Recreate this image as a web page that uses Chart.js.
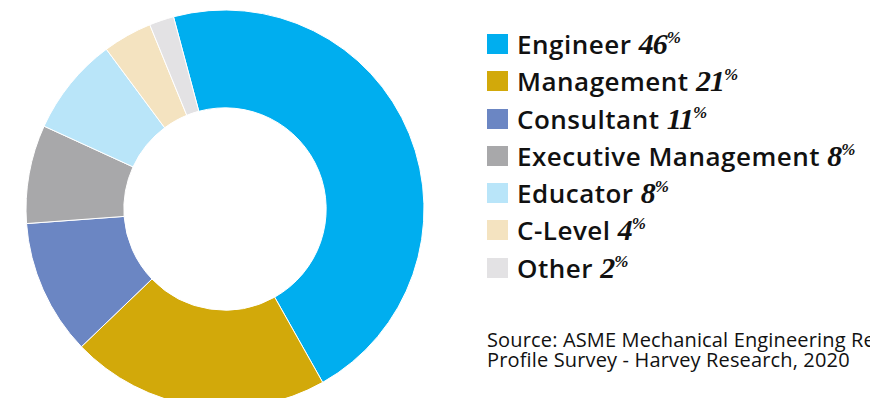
<!DOCTYPE html>
<html>
<head>
<meta charset="utf-8">
<script src="https://cdn.jsdelivr.net/npm/chart.js@4/dist/chart.umd.min.js"></script>
<style>
    html, body { margin: 0; padding: 0; background: #fff; overflow: hidden; }
    body { width: 870px; height: 398px; position: relative; }
    #chartBox { position: absolute; left: 0; top: 0; width: 450px; height: 418px; }
    #legend { position: absolute; left: 487px; top: 29px; font-family: "Open Sans", sans-serif; }
    .row { display: flex; align-items: flex-start; height: 37.3px; white-space: nowrap; }
    .sw { width: 21px; height: 20px; margin-top: 5px; margin-right: 9px; flex: none; }
    .lbl { font-weight: 600; font-size: 26px; line-height: 29px; color: #111; letter-spacing: 0.5px; }
    .pct { font-family: "Liberation Serif", serif; font-style: italic; font-weight: bold; font-size: 30px; letter-spacing: -1px; }
    .pct sup { font-size: 17px; vertical-align: 11px; line-height: 0; letter-spacing: -1px; }
    #source { position: absolute; left: 487px; top: 330px; font-family: "Open Sans", sans-serif; font-size: 20px; line-height: 20px; color: #111; white-space: nowrap; letter-spacing: 0.15px; }
</style>
</head>
<body>
<div id="chartBox"><canvas id="donut"></canvas></div>
<div id="legend"></div>
<div id="source">Source: ASME Mechanical Engineering Research<br>Profile Survey - Harvey Research, 2020</div>
<script>
// 职业分布数据
const categories = ['Engineer', 'Management', 'Consultant', 'Executive Management', 'Educator', 'C-Level', 'Other'];
const shares = [46, 21, 11, 8, 8, 4, 2];
const colors = ['#00AEEF', '#D2A90A', '#6B86C3', '#A8A8AA', '#B9E5F9', '#F4E3C0', '#E3E2E4'];

document.addEventListener('DOMContentLoaded', function() {
    // 图例（带斜体百分比）
    const legend = document.getElementById('legend');
    categories.forEach(function(name, i) {
        const row = document.createElement('div');
        row.className = 'row';
        row.innerHTML = '<div class="sw" style="background:' + colors[i] + '"></div>' +
            '<span class="lbl">' + name + ' <span class="pct">' + shares[i] + '<sup>%</sup></span></span>';
        legend.appendChild(row);
    });

    const ctx = document.getElementById('donut').getContext('2d');
    new Chart(ctx, {
        type: 'doughnut',
        data: {
            labels: categories,
            datasets: [{
                data: shares,
                backgroundColor: colors,
                borderColor: '#ffffff',
                borderWidth: 1,
                hoverOffset: 0
            }]
        },
        options: {
            responsive: true,
            maintainAspectRatio: false,
            animation: false,
            rotation: -15,
            radius: 199,
            cutout: 106,
            plugins: {
                legend: { display: false },
                tooltip: { enabled: false }
            }
        }
    });
});
</script>
</body>
</html>
